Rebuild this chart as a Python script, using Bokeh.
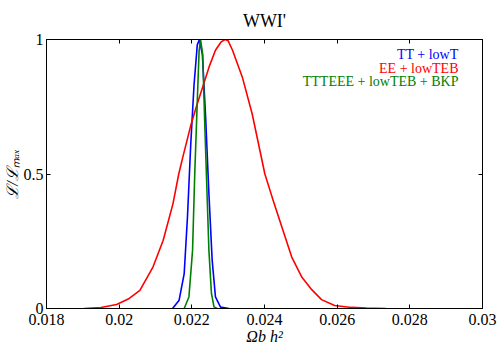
from bokeh.plotting import figure
from bokeh.models import Label, LinearAxis, FixedTicker, Range1d
from bokeh.embed import file_html
from bokeh.resources import INLINE

# ---- data ----
x_ticks = [0.018, 0.020, 0.022, 0.024, 0.026, 0.028, 0.030]
x_tick_labels = ["0.018", "0.02", "0.022", "0.024", "0.026", "0.028", "0.03"]
y_ticks = [0.0, 0.5, 1.0]
y_tick_labels = ["0", "0.5", "1"]

title_text = "WWI'"
x_label = "Ωb h²"
y_label = "ℒ/ℒₘₐₓ"

series_names = ["TT + lowT", "EE + lowTEB", "TTTEEE + lowTEB + BKP"]
series_colors = ["#0000ff", "#ff0000", "#008000"]

blue_x = [0.02147, 0.02165, 0.02179, 0.02188, 0.02197, 0.02206, 0.02215, 0.02221,
          0.02229, 0.02238, 0.02247, 0.02256, 0.02265, 0.02279, 0.02302]
blue_y = [0.0, 0.031, 0.13, 0.34, 0.61, 0.83, 0.98, 1.0,
          0.944, 0.71, 0.426, 0.179, 0.043, 0.005, 0.0]

red_x = [0.01903, 0.01950, 0.01993, 0.02025, 0.02057, 0.02093, 0.02121, 0.02148,
         0.02164, 0.02175, 0.02197, 0.02212, 0.02248, 0.02265, 0.02280, 0.02291,
         0.02300, 0.02312, 0.02339, 0.02366, 0.02401, 0.02421, 0.02448, 0.02475,
         0.02503, 0.02530, 0.02557, 0.02593, 0.02639, 0.02680, 0.02734]
red_y = [0.0, 0.004, 0.015, 0.035, 0.067, 0.154, 0.253, 0.389,
         0.5, 0.562, 0.68, 0.748, 0.90, 0.96, 0.99, 1.0,
         0.995, 0.96, 0.86, 0.724, 0.5, 0.414, 0.302, 0.191,
         0.116, 0.07, 0.033, 0.011, 0.004, 0.002, 0.0]

green_x = [0.02179, 0.02192, 0.02202, 0.02208, 0.02215, 0.02220, 0.02224, 0.02230,
           0.02235, 0.02241, 0.02247, 0.02254, 0.02261, 0.02270]
green_y = [0.0, 0.043, 0.216, 0.5, 0.77, 0.957, 1.0, 0.944,
           0.71, 0.463, 0.216, 0.056, 0.006, 0.0]

FONT = "Liberation Serif"

p = figure(width=500, height=350, output_backend="svg", toolbar_location=None,
           x_range=Range1d(0.018, 0.030), y_range=Range1d(0.0, 1.0),
           min_border_left=42, min_border_right=18, min_border_top=39,
           min_border_bottom=42, title=title_text)
p.title.text_font = FONT
p.title.text_font_size = "18px"
p.title.text_font_style = "normal"
p.title.align = "center"
p.title.vertical_align = "top"
p.title.text_color = "black"
p.title.standoff = 14

p.xgrid.visible = False
p.ygrid.visible = False
p.outline_line_color = "black"
p.outline_line_width = 1
p.background_fill_color = "white"
p.border_fill_color = "white"


def style_axis(ax, ticks, labels, show_labels=True, standoff=5):
    ax.ticker = FixedTicker(ticks=ticks)
    ax.major_label_overrides = {t: l for t, l in zip(ticks, labels)}
    ax.major_tick_in = 4
    ax.major_tick_out = 0
    ax.minor_tick_line_color = None
    ax.major_tick_line_color = "black"
    ax.axis_line_color = "black"
    ax.major_label_text_font = FONT
    ax.major_label_standoff = standoff
    if show_labels:
        ax.major_label_text_color = "black"
        ax.major_label_text_font_size = "16px"
    else:
        ax.major_label_text_color = None
        ax.major_label_text_font_size = "1px"


style_axis(p.xaxis[0], x_ticks, x_tick_labels, True, 5)
style_axis(p.yaxis[0], y_ticks, y_tick_labels, True, 3)
p.xaxis[0].axis_label = x_label
p.yaxis[0].axis_label = y_label
for ax in (p.xaxis[0], p.yaxis[0]):
    ax.axis_label_text_font = FONT
    ax.axis_label_text_font_style = "italic"
    ax.axis_label_text_font_size = "16px"
    ax.axis_label_text_color = "black"
    ax.axis_label_standoff = 0

top_ax = LinearAxis()
style_axis(top_ax, x_ticks, x_tick_labels, False, 0)
p.add_layout(top_ax, "above")
right_ax = LinearAxis()
style_axis(right_ax, y_ticks, y_tick_labels, False, 0)
p.add_layout(right_ax, "right")

# curves (blue, red, green order)
p.line(blue_x, blue_y, line_color=series_colors[0], line_width=1.6)
p.line(red_x, red_y, line_color=series_colors[1], line_width=1.6)
p.line(green_x, green_y, line_color=series_colors[2], line_width=1.6)

# legend as coloured text, right aligned inside the frame
for i, (name, col) in enumerate(zip(series_names, series_colors)):
    p.add_layout(Label(x=0.030, y=1.0, x_offset=-24, y_offset=-15 - 13.5 * i,
                       text=name, text_color=col, text_font=FONT,
                       text_font_size="14px", text_align="right",
                       text_baseline="alphabetic"))

open("out.html", "w").write(file_html(p, INLINE))
